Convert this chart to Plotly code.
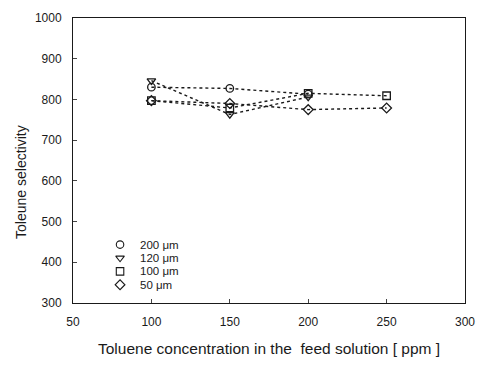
import plotly.graph_objects as go

# ---- data ----
x_200 = [100, 150, 200]
y_200 = [830, 827, 813]

x_120 = [100, 150, 200]
y_120 = [846, 763, 806]

x_100 = [100, 150, 200, 250]
y_100 = [797, 779, 815, 809]

x_50 = [100, 150, 200, 250]
y_50 = [797, 790, 775, 779]

series_names = ["200 \u03bcm", "120 \u03bcm", "100 \u03bcm", "50 \u03bcm"]
symbols = ["circle-open", "triangle-down-open", "square-open", "diamond-open"]

x_ticks = [50, 100, 150, 200, 250, 300]
y_ticks = [300, 400, 500, 600, 700, 800, 900, 1000]

FONT = "Liberation Sans, Arial, sans-serif"
INK = "#1a1a1a"

fig = go.Figure()

data = [(x_200, y_200), (x_120, y_120), (x_100, y_100), (x_50, y_50)]
for (xs, ys), name, sym in zip(data, series_names, symbols):
    fig.add_trace(go.Scatter(
        x=xs, y=ys, mode="lines+markers", name=name, showlegend=False,
        line=dict(color=INK, width=1.4, dash="dot"),
        marker=dict(symbol=sym, size=7.5, color=INK, line=dict(width=1.3, color=INK)),
    ))

# legend drawn on a hidden overlay axis (0..1 in each direction)
leg_y = [0.205, 0.158, 0.111, 0.064]
leg_x = [0.12] * 4
for i, (name, sym) in enumerate(zip(series_names, symbols)):
    fig.add_trace(go.Scatter(
        x=[leg_x[i]], y=[leg_y[i]], mode="markers", showlegend=False,
        xaxis="x2", yaxis="y2",
        marker=dict(symbol=sym, size=7.5, color=INK, line=dict(width=1.1, color=INK)),
    ))
    fig.add_annotation(x=leg_x[i] + 0.045, y=leg_y[i], xref="x2", yref="y2",
                       text=name, showarrow=False, xanchor="left", yanchor="middle",
                       font=dict(family=FONT, size=11.5, color=INK))

fig.update_layout(
    width=486, height=376,
    margin=dict(l=73, r=13, t=11, b=73),
    paper_bgcolor="white", plot_bgcolor="white",
    font=dict(family=FONT, size=12, color=INK),
    showlegend=False,
    xaxis=dict(range=[50, 300], tickvals=x_ticks, ticks="inside", ticklen=4,
               showline=True, linecolor=INK, linewidth=1, mirror=True,
               showgrid=False, zeroline=False, ticklabelstandoff=8,
               tickfont=dict(family=FONT, size=12, color=INK)),
    yaxis=dict(range=[300, 1000], tickvals=y_ticks, ticks="inside", ticklen=4,
               showline=True, linecolor=INK, linewidth=1, mirror=True,
               showgrid=False, zeroline=False, ticklabelstandoff=8,
               tickfont=dict(family=FONT, size=12, color=INK)),
    xaxis2=dict(range=[0, 1], overlaying="x", visible=False, domain=[0, 1]),
    yaxis2=dict(range=[0, 1], overlaying="y", visible=False),
)

fig.add_annotation(x=0.5, y=-0.158, xref="paper", yref="paper",
                   text="Toluene concentration in the  feed solution [ ppm ]",
                   showarrow=False, xanchor="center", yanchor="middle",
                   font=dict(family=FONT, size=15.5, color=INK))
fig.add_annotation(x=-0.1325, y=0.425, xref="paper", yref="paper",
                   text="Toleune selectivity", textangle=-90,
                   showarrow=False, xanchor="center", yanchor="middle",
                   font=dict(family=FONT, size=14, color=INK))

fig.write_html("out.html")
